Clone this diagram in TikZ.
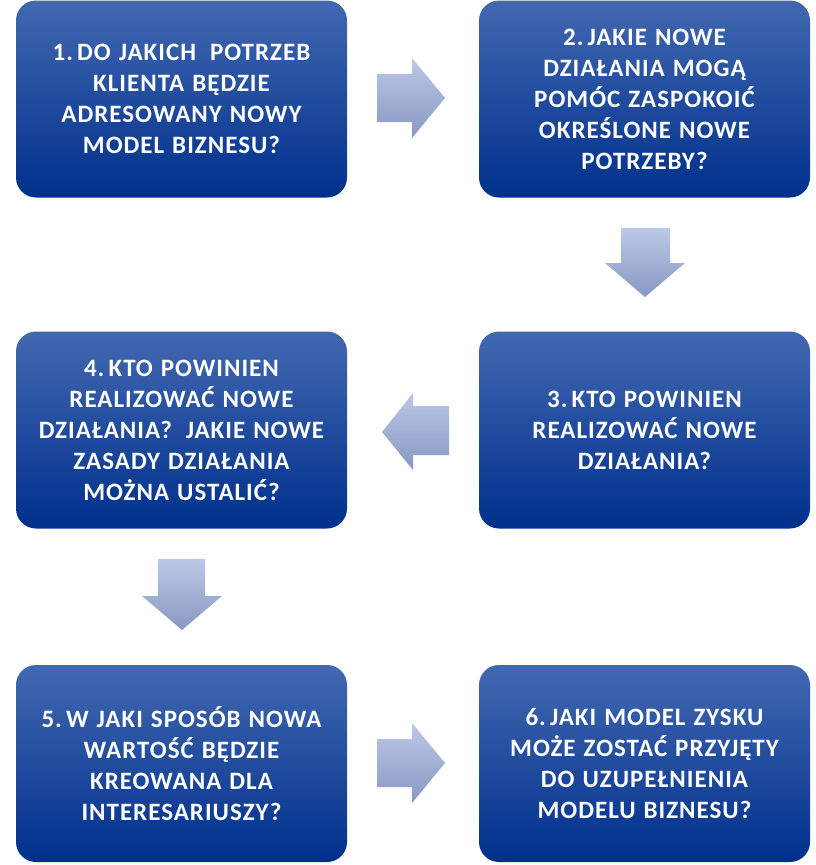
\documentclass[tikz,border=0pt]{standalone}
\usepackage{fontspec}
\setmainfont{Carlito}[LetterSpace=4]
\newcommand\qboxfont{\fontsize{25}{31}\selectfont\bfseries\spaceskip=8pt plus 2pt\relax}
\begin{document}
\definecolor{boxtop}{RGB}{66,104,176}
\definecolor{boxbot}{RGB}{0,48,140}
\definecolor{arrtop}{RGB}{188,200,230}
\definecolor{arrbot}{RGB}{136,152,194}
\tikzset{
  qbox/.style={rounded corners=20pt, minimum width=331pt, minimum height=197pt,
    top color=boxtop, bottom color=boxbot, draw=none, text=white,
    align=center, inner sep=0pt, font=\qboxfont},
  blockarrow/.style={top color=arrtop, bottom color=arrbot, draw=none}
}
\begin{tikzpicture}[x=1pt,y=-1pt]
\useasboundingbox (0,0) rectangle (816,865);
\node[qbox] (b1) at (181.5,99) {1.\,DO JAKICH\hspace{6pt} POTRZEB\\KLIENTA BĘDZIE\\ADRESOWANY NOWY\\MODEL BIZNESU?};
\node[qbox] (b2) at (644.5,99) {2.\,JAKIE NOWE\\DZIAŁANIA MOGĄ\\POMÓC ZASPOKOIĆ\\OKREŚLONE NOWE\\POTRZEBY?};
\node[qbox] (b3) at (644.5,430) {3.\,KTO POWINIEN\\REALIZOWAĆ NOWE\\DZIAŁANIA?};
\node[qbox] (b4) at (181.5,430) {4.\,KTO POWINIEN\\REALIZOWAĆ NOWE\\DZIAŁANIA?\hspace{6pt} JAKIE NOWE\\ZASADY DZIAŁANIA\\MOŻNA USTALIĆ?};
\node[qbox] (b5) at (181.5,763.5) {5.\,W JAKI SPOSÓB NOWA\\WARTOŚĆ BĘDZIE\\KREOWANA DLA\\INTERESARIUSZY?};
\node[qbox] (b6) at (644.5,763.5) {6.\,JAKI MODEL ZYSKU\\MOŻE ZOSTAĆ PRZYJĘTY\\DO UZUPEŁNIENIA\\MODELU BIZNESU?};
% block arrows
\path[blockarrow] (377,74) -- (412,74) -- (412,58) -- (445,98) -- (412,138) -- (412,122) -- (377,122) -- cycle;
\path[blockarrow] (621,228) -- (670,228) -- (670,263) -- (685,263) -- (645,297) -- (605,263) -- (621,263) -- cycle;
\path[blockarrow] (449,406) -- (413,406) -- (413,393) -- (382,432) -- (413,470) -- (413,455) -- (449,455) -- cycle;
\path[blockarrow] (158,559) -- (205,559) -- (205,596) -- (222,596) -- (182,630) -- (142,596) -- (158,596) -- cycle;
\path[blockarrow] (377,739) -- (412,739) -- (412,723) -- (445,763) -- (412,803) -- (412,787) -- (377,787) -- cycle;
\end{tikzpicture}
\end{document}
